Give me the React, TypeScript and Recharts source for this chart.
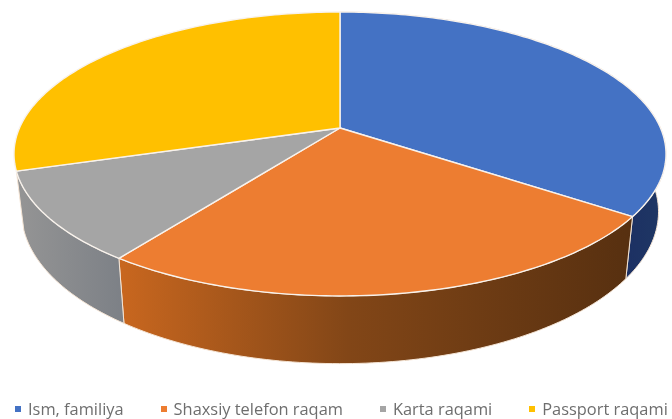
import { PieChart, Pie, Legend } from 'recharts';

const categories = ['Ism, familiya', 'Shaxsiy telefon raqam', 'Karta raqami', 'Passport raqami'];
const shares = [34.8, 25.2, 10.2, 29.8];
const topColors = ['#4472c4', '#ed7d31', '#a5a5a5', '#ffc000'];
// the yellow wall sits fully behind the gray one, so it is not painted
const wallFills = ['url(#wallBlue)', 'url(#wallOrange)', 'url(#wallGray)', 'none'];

const data = categories.map((name, i) => ({ name, value: shares[i], fill: topColors[i] }));
const wallData = categories.map((name, i) => ({ name, value: shares[i], fill: wallFills[i] }));

// tilt of the disc: the circle the library lays out is projected with some perspective
const TILT = 0.183;
const SQUASH_X = 320.5;
const SQUASH_Y = 137.2;
// bottom rim of the wall compared with the top rim
const RIM_X = 0.977;
const RIM_Y = 1.07;
const RIM_SHIFT = 47;

const RAD = Math.PI / 180;

function project(cx: number, cy: number, deg: number) {
    const u = Math.cos(deg * RAD);
    const v = Math.sin(deg * RAD);
    const s = 1 / (1 + TILT * v);
    return { x: cx + SQUASH_X * u * s, y: cy - SQUASH_Y * v * s };
}

function arcPoints(cx: number, cy: number, start: number, end: number) {
    const steps = Math.max(2, Math.ceil(Math.abs(end - start)));
    const pts = [];
    for (let i = 0; i <= steps; i++) {
        pts.push(project(cx, cy, start + ((end - start) * i) / steps));
    }
    return pts;
}

function TopSlice(props: any) {
    const { cx, cy, startAngle, endAngle, fill } = props;
    const pts = arcPoints(cx, cy, startAngle, endAngle);
    const d = `M${cx},${cy} ` + pts.map((p) => `L${p.x},${p.y}`).join(' ') + ' Z';
    return <path d={d} fill={fill} stroke="#f8f2ec" strokeWidth={1.4} strokeLinejoin="round" />;
}

function WallSlice(props: any) {
    const { cx, cy, startAngle, endAngle, fill } = props;
    if (fill === 'none') return null;
    const pts = arcPoints(cx, cy, startAngle, endAngle);
    const lower = pts
        .map((p) => ({ x: cx + (p.x - cx) * RIM_X, y: p.y * RIM_Y + RIM_SHIFT }))
        .reverse();
    const d = 'M' + pts.concat(lower).map((p) => `${p.x},${p.y}`).join(' L') + ' Z';
    return <path d={d} fill={fill} stroke="#f4e4d4" strokeWidth={1} strokeLinejoin="round" />;
}

function LegendRow({ payload }: any) {
    const items = (payload || []).filter((item: any) => topColors.includes(item.color));
    return (
        <div style={{ display: 'flex', gap: 37, paddingLeft: 15, whiteSpace: 'nowrap' }}>
            {items.map((item: any) => (
                <span key={item.value} style={{ display: 'flex', alignItems: 'center', gap: 7 }}>
                    <span style={{ width: 6, height: 6, background: item.color }} />
                    <span>{item.value}</span>
                </span>
            ))}
        </div>
    );
}

export default function App() {
    return (
        <div style={{ position: 'absolute', left: 0, top: 0, width: 672, height: 419, overflow: 'hidden', filter: 'blur(0.5px)' }}>
            <PieChart width={672} height={419} margin={{ top: 0, right: 0, bottom: 0, left: 0 }}>
                <defs>
                    <linearGradient id="wallBlue" gradientUnits="userSpaceOnUse" x1="620" y1="0" x2="670" y2="0">
                        <stop offset="0" stopColor="#1c2f63" />
                        <stop offset="1" stopColor="#1f3864" />
                    </linearGradient>
                    <linearGradient id="wallOrange" gradientUnits="userSpaceOnUse" x1="118" y1="0" x2="632" y2="0">
                        <stop offset="0" stopColor="#c9671f" />
                        <stop offset="0.45" stopColor="#824617" />
                        <stop offset="1" stopColor="#573010" />
                    </linearGradient>
                    <linearGradient id="wallGray" gradientUnits="userSpaceOnUse" x1="15" y1="0" x2="125" y2="0">
                        <stop offset="0" stopColor="#959595" />
                        <stop offset="1" stopColor="#7c8086" />
                    </linearGradient>
                </defs>
                <Pie
                    data={wallData}
                    dataKey="value"
                    nameKey="name"
                    cx={340}
                    cy={128}
                    outerRadius={120}
                    startAngle={90}
                    endAngle={-270}
                    shape={WallSlice}
                    legendType="none"
                    isAnimationActive={false}
                />
                <Pie
                    data={data}
                    dataKey="value"
                    nameKey="name"
                    cx={340}
                    cy={128}
                    outerRadius={120}
                    startAngle={90}
                    endAngle={-270}
                    shape={TopSlice}
                    isAnimationActive={false}
                />
                <Legend
                    content={<LegendRow />}
                    itemSorter={null}
                    wrapperStyle={{
                        left: 0,
                        top: 397,
                        width: 672,
                        fontFamily: 'Open Sans',
                        fontSize: 16.4,
                        color: '#6e6e6e',
                    }}
                />
            </PieChart>
        </div>
    );
}
